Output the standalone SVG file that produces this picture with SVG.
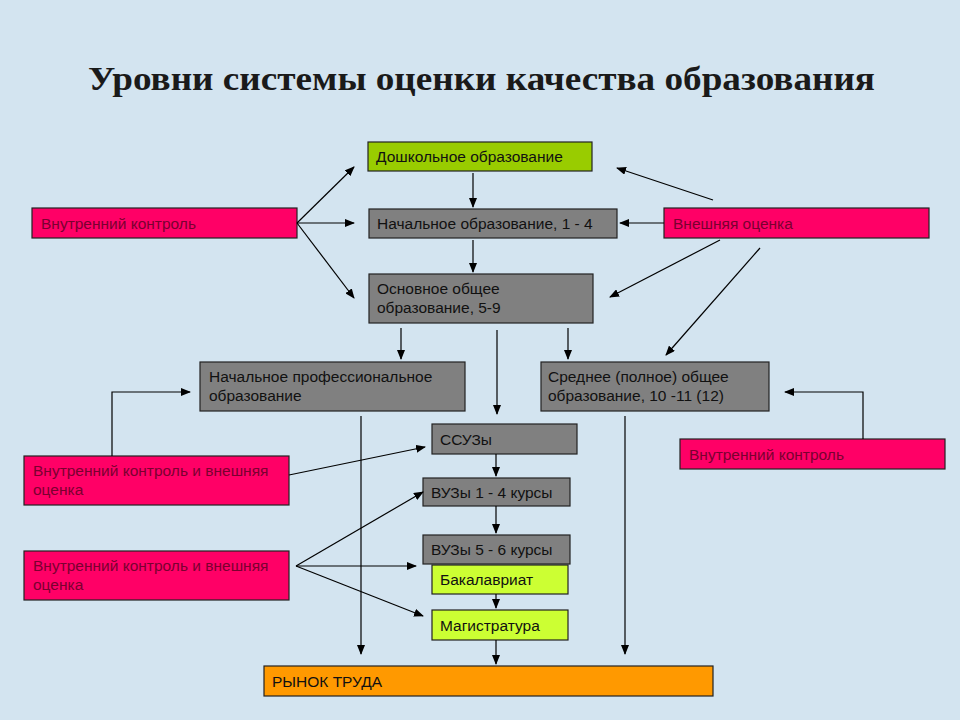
<svg xmlns="http://www.w3.org/2000/svg" width="960" height="720" viewBox="0 0 960 720">
<defs>
<marker id="ah" markerWidth="10" markerHeight="8" refX="9" refY="4" orient="auto" markerUnits="userSpaceOnUse"><path d="M0,0 L10,4 L0,8 Z" fill="#000"/></marker>
<style>
.b{stroke:#222;stroke-width:1.2}
.g{fill:#808080}.p{fill:#ff0066}.lg{fill:#99cc00}.yg{fill:#ccff33}.o{fill:#ff9900}
.t{font-family:"Liberation Sans",Arial,sans-serif;font-size:15.5px;fill:#111}
.tp{font-family:"Liberation Sans",Arial,sans-serif;font-size:15.5px;fill:#7a0030}
.c line,.c polyline{stroke:#000;stroke-width:1.2;fill:none;marker-end:url(#ah)}
</style>
</defs>
<rect width="960" height="720" fill="#d3e4f0"/>
<text x="88" y="90" textLength="787" lengthAdjust="spacingAndGlyphs" font-family="Liberation Serif,serif" font-weight="bold" font-size="34" fill="#1a1a1a">Уровни системы оценки качества образования</text>
<g id="n1"><rect class="b lg" x="368" y="142" width="224" height="29"/><text class="t" x="376" y="162">Дошкольное образование</text></g>
<g id="n2"><rect class="b p" x="32" y="208" width="265" height="30"/><text class="tp" x="41" y="229">Внутренний контроль</text></g>
<g id="n3"><rect class="b g" x="369" y="209" width="248" height="29"/><text class="t" x="377" y="229">Начальное образование, 1 - 4</text></g>
<g id="n4"><rect class="b p" x="664" y="208" width="265" height="30"/><text class="tp" x="673" y="229">Внешняя оценка</text></g>
<g id="n5"><rect class="b g" x="369" y="274" width="224" height="49"/><text class="t" x="377" y="294">Основное общее</text><text class="t" x="377" y="313">образование, 5-9</text></g>
<g id="n6"><rect class="b g" x="200" y="362" width="265" height="49"/><text class="t" x="209" y="382">Начальное профессиональное</text><text class="t" x="209" y="401">образование</text></g>
<g id="n7"><rect class="b g" x="541" y="362" width="228" height="49"/><text class="t" x="548" y="382">Среднее (полное) общее</text><text class="t" x="548" y="401">образование, 10 -11 (12)</text></g>
<g id="n8"><rect class="b g" x="432" y="424" width="145" height="30"/><text class="t" x="440" y="445">ССУЗы</text></g>
<g id="n9"><rect class="b p" x="680" y="439" width="265" height="30"/><text class="tp" x="689" y="460">Внутренний контроль</text></g>
<g id="n10"><rect class="b p" x="24" y="456" width="265" height="49"/><text class="tp" x="33" y="476">Внутренний контроль и внешняя</text><text class="tp" x="33" y="495">оценка</text></g>
<g id="n11"><rect class="b g" x="423" y="478" width="147" height="28"/><text class="t" x="431" y="498">ВУЗы 1 - 4 курсы</text></g>
<g id="n12"><rect class="b g" x="423" y="535" width="147" height="29"/><text class="t" x="431" y="555">ВУЗы 5 - 6 курсы</text></g>
<g id="n13"><rect class="b yg" x="432" y="565" width="136" height="29"/><text class="t" x="440" y="585">Бакалавриат</text></g>
<g id="n14"><rect class="b p" x="24" y="551" width="265" height="49"/><text class="tp" x="33" y="571">Внутренний контроль и внешняя</text><text class="tp" x="33" y="590">оценка</text></g>
<g id="n15"><rect class="b yg" x="432" y="610" width="136" height="30"/><text class="t" x="440" y="631">Магистратура</text></g>
<g id="n16"><rect class="b o" x="264" y="666" width="449" height="30"/><text class="t" x="272" y="687">РЫНОК ТРУДА</text></g>
<g class="c" id="connectors">
<line x1="297" y1="223" x2="354" y2="167"/>
<line x1="297" y1="223" x2="354" y2="223"/>
<line x1="297" y1="223" x2="354" y2="298"/>
<line x1="473" y1="173" x2="473" y2="207"/>
<line x1="473" y1="240" x2="473" y2="272"/>
<line x1="713" y1="200" x2="617" y2="168"/>
<line x1="664" y1="223" x2="620" y2="223"/>
<line x1="720" y1="240" x2="610" y2="297"/>
<line x1="760" y1="248" x2="666" y2="355"/>
<line x1="401" y1="328" x2="401" y2="359"/>
<line x1="497" y1="330" x2="497" y2="414"/>
<line x1="568" y1="328" x2="568" y2="359"/>
<polyline points="112,456 112,392 190,392"/>
<polyline points="863,439 863,392 785,392"/>
<line x1="289" y1="475" x2="425" y2="447"/>
<line x1="496" y1="454" x2="496" y2="476"/>
<line x1="496" y1="506" x2="496" y2="533"/>
<line x1="496" y1="594" x2="496" y2="608"/>
<line x1="496" y1="640" x2="496" y2="664"/>
<line x1="296" y1="566" x2="423" y2="492"/>
<line x1="296" y1="566" x2="416" y2="566"/>
<line x1="296" y1="566" x2="423" y2="616"/>
<line x1="361" y1="416" x2="361" y2="654"/>
<line x1="625" y1="416" x2="625" y2="654"/>
</g>
</svg>
